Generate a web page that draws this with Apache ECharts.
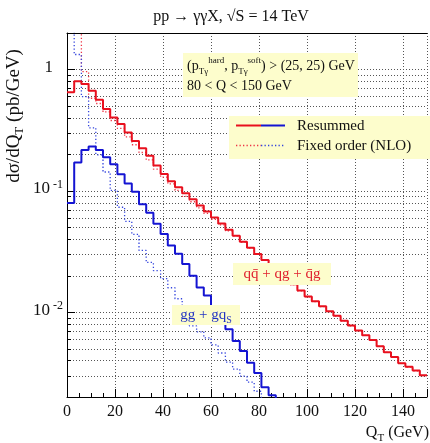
<!DOCTYPE html>
<html>
<head>
<meta charset="utf-8">
<script src="https://cdn.jsdelivr.net/npm/echarts@6/dist/echarts.min.js"></script>
<style>
  html, body { margin: 0; padding: 0; background: #fff; }
  #chart { width: 430px; height: 443px; }
</style>
</head>
<body>
<div id="chart"></div>
<script>
// Q_T bin edges (GeV), 3 GeV bins
const binEdges = [0, 3, 6, 9, 12, 15, 18, 21, 24, 27, 30, 33, 36, 39, 42, 45, 48, 51, 54, 57,
  60, 63, 66, 69, 72, 75, 78, 81, 84, 87, 90, 93, 96, 99, 102, 105, 108, 111, 114, 117,
  120, 123, 126, 129, 132, 135, 138, 141, 144, 147, 150];

// q qbar + q g + qbar g channel, resummed (pb/GeV per bin)
const qqResummed = [0.650, 0.800, 0.760, 0.670, 0.564, 0.472, 0.403, 0.355, 0.302, 0.257,
  0.224, 0.195, 0.162, 0.138, 0.120, 0.107, 0.0955, 0.0851, 0.0759, 0.0676,
  0.0603, 0.0537, 0.0479, 0.0427, 0.0380, 0.0339, 0.0302, 0.0269, 0.0240, 0.0214,
  0.0191, 0.0170, 0.0151, 0.0135, 0.0123, 0.0112, 0.0102, 0.00933, 0.00851, 0.00776,
  0.00708, 0.00646, 0.00589, 0.00525, 0.00468, 0.00427, 0.00380, 0.00355, 0.00331, 0.00302];

// q qbar + q g + qbar g channel, fixed order NLO
const qqNLO = [6.0, 3.0, 0.960, 0.580, 0.525, 0.447, 0.380, 0.327, 0.279, 0.240,
  0.207, 0.180, 0.151, 0.130, 0.114, 0.101, 0.0902, 0.0813, 0.0724, 0.0653,
  0.0582, 0.0525, 0.0468, 0.0425, 0.0378, 0.0338, 0.0301, 0.0268, 0.0239, 0.0213,
  0.0190, 0.0169, 0.0150, 0.0134, 0.0122, 0.0111, 0.0101, 0.00928, 0.00847, 0.00772,
  0.00705, 0.00643, 0.00586, 0.00522, 0.00466, 0.00425, 0.00378, 0.00353, 0.00329, 0.00300];

// g g + g q_S channel, resummed
const ggResummed = [0.0796, 0.171, 0.217, 0.232, 0.217, 0.189, 0.166, 0.137, 0.115, 0.0982,
  0.0776, 0.0659, 0.0535, 0.0441, 0.0355, 0.0303, 0.0250, 0.0200, 0.0160, 0.0137,
  0.0109, 0.00881, 0.00724, 0.00579, 0.00479, 0.00383, 0.00316, 0.00241, 0.00207, 0.0016];

// g g + g q_S channel, fixed order NLO
const ggNLO = [6.0, 1.33, 0.597, 0.331, 0.198, 0.143, 0.101, 0.0733, 0.0561, 0.0438,
  0.0323, 0.0257, 0.0220, 0.0189, 0.0159, 0.0129, 0.00989, 0.00771, 0.00689, 0.00614,
  0.00537, 0.00461, 0.00388, 0.00340, 0.00297, 0.00265, 0.00223, 0.0017];

// axis ticks: labelled x ticks, x minor ticks, log-axis minor grid values
const xTicks = [0, 20, 40, 60, 80, 100, 120, 140];
const xMinor = [5, 10, 15, 25, 30, 35, 45, 50, 55, 65, 70, 75, 85, 90, 95,
  105, 110, 115, 125, 130, 135, 145];
const minorGrid = [0.003, 0.004, 0.005, 0.006, 0.007, 0.008, 0.009,
  0.02, 0.03, 0.04, 0.05, 0.06, 0.07, 0.08, 0.09,
  0.2, 0.3, 0.4, 0.5, 0.6, 0.7, 0.8, 0.9];

const SERIF = "'Liberation Serif', 'DejaVu Serif', serif";
const RED = '#e8101e';
const BLUE = '#1414d2';
const RED_TXT = '#e0202e';
const BLUE_TXT = '#2233c4';
const BOX = '#fdfdcc';
const X_MIN = 0, X_MAX = 150, Y_MIN = 0.002, Y_MAX = 2;

// histogram -> step polyline (value held across each bin)
function histo(values) {
  const pts = values.map((v, i) => [binEdges[i], v]);
  pts.push([binEdges[values.length], values[values.length - 1]]);
  return pts;
}

const chart = echarts.init(document.getElementById('chart'), null, { renderer: 'canvas' });

const gridLine = { color: '#555', width: 1, type: [1, 2] };

const option = {
  animation: false,
  backgroundColor: '#fff',
  grid: { left: 67, top: 33, width: 363, height: 364, containLabel: false },
  xAxis: [{
    type: 'value', min: X_MIN, max: X_MAX, interval: 20, position: 'bottom',
    axisLine: { show: true, onZero: false, lineStyle: { color: '#000', width: 1 } },
    axisTick: { show: true, inside: true, length: 8, lineStyle: { color: '#000' } },
    splitLine: { show: true, lineStyle: gridLine },
    axisLabel: {
      fontFamily: SERIF, fontSize: 16, color: '#111', margin: 7,
      formatter: v => (xTicks.indexOf(v) >= 0 ? String(v) : '')
    }
  }, {
    type: 'value', min: X_MIN, max: X_MAX, position: 'top',
    axisLine: { show: true, onZero: false, lineStyle: { color: '#000', width: 1 } },
    axisTick: { show: false }, axisLabel: { show: false }, splitLine: { show: false }
  }],
  yAxis: {
    type: 'log', logBase: 10, min: Y_MIN, max: Y_MAX,
    axisLine: { show: true, lineStyle: { color: '#000', width: 1 } },
    axisTick: { show: true, inside: true, length: 8, lineStyle: { color: '#000' } },
    splitLine: { show: true, lineStyle: gridLine },
    axisLabel: {
      margin: 4,
      formatter: v => {
        const l = Math.log10(v);
        const e = Math.round(l);
        if (Math.abs(l - e) > 1e-6) return '';
        if (e === 0) return '{one|1}';
        return '{b|10}{e|' + e + '}';
      },
      rich: {
        one: { fontFamily: SERIF, fontSize: 17, color: '#111', lineHeight: 24, padding: [0, 10, 4, 0] },
        b: { fontFamily: SERIF, fontSize: 17, color: '#111', lineHeight: 24, padding: [0, 0, 4, 0] },
        e: { fontFamily: SERIF, fontSize: 12, color: '#111', lineHeight: 12, verticalAlign: 'top',
          padding: [0, 0, 0, 3] }
      }
    }
  },
  series: [
    {
      // minor log grid lines with short ticks on the y axis
      type: 'custom', silent: true, z: 1, xAxisIndex: 0,
      data: minorGrid.map(v => [X_MIN, v]),
      renderItem: (params, api) => {
        const v = api.value(1);
        const a = api.coord([X_MIN, v]);
        const b = api.coord([X_MAX, v]);
        const y = Math.round(a[1]) + 0.5;
        return {
          type: 'group', children: [
            { type: 'line', shape: { x1: a[0], y1: y, x2: b[0], y2: y },
              style: { stroke: '#555', lineWidth: 1, lineDash: [1, 2] } },
            { type: 'line', shape: { x1: a[0], y1: y, x2: a[0] + 4, y2: y },
              style: { stroke: '#000', lineWidth: 1 } }
          ]
        };
      }
    },
    {
      // minor ticks on the x axis
      type: 'custom', silent: true, z: 2, xAxisIndex: 0,
      data: xMinor.map(x => [x, Y_MIN]),
      renderItem: (params, api) => {
        const p = api.coord([api.value(0), Y_MIN]);
        const x = Math.round(p[0]) + 0.5;
        return { type: 'line', shape: { x1: x, y1: p[1], x2: x, y2: p[1] - 4 },
          style: { stroke: '#000', lineWidth: 1 } };
      }
    },
    {
      name: 'qq NLO', type: 'line', step: 'end', data: histo(qqNLO),
      showSymbol: false, symbol: 'none', z: 3,
      lineStyle: { color: '#ee3344', width: 1.3, type: [1.3, 2.2] }
    },
    {
      name: 'gg NLO', type: 'line', step: 'end', data: histo(ggNLO),
      showSymbol: false, symbol: 'none', z: 3,
      lineStyle: { color: '#3344dd', width: 1.3, type: [1.3, 2.2] }
    },
    {
      name: 'qq resummed', type: 'line', step: 'end', data: histo(qqResummed),
      showSymbol: false, symbol: 'none', z: 4,
      lineStyle: { color: RED, width: 2 }
    },
    {
      name: 'gg resummed', type: 'line', step: 'end', data: histo(ggResummed),
      showSymbol: false, symbol: 'none', z: 4,
      lineStyle: { color: BLUE, width: 2 }
    }
  ],
  graphic: { elements: [
    // title
    { type: 'text', x: 231, y: 17, z: 20,
      style: { text: 'pp \u2192 \u03b3\u03b3X, \u221aS = 14 TeV', fontFamily: SERIF, fontSize: 16,
        fill: '#111', align: 'center', verticalAlign: 'middle' } },
    // y axis title
    { type: 'text', x: 14, y: 116, rotation: Math.PI / 2, z: 20,
      style: { text: '{a|d\u03c3/dQ}{s|T}{a| (pb/GeV)}', align: 'center', verticalAlign: 'middle',
        rich: {
          a: { fontFamily: SERIF, fontSize: 19, fill: '#111', lineHeight: 24 },
          s: { fontFamily: SERIF, fontSize: 13, fill: '#111', lineHeight: 13, verticalAlign: 'bottom' }
        } } },
    // x axis title
    { type: 'text', x: 429, y: 433, z: 20,
      style: { text: '{a|Q}{s|T}{a| (GeV)}', align: 'right', verticalAlign: 'middle',
        rich: {
          a: { fontFamily: SERIF, fontSize: 16, fill: '#111', lineHeight: 22 },
          s: { fontFamily: SERIF, fontSize: 11, fill: '#111', lineHeight: 12, verticalAlign: 'bottom' }
        } } },
    // cuts box
    { type: 'rect', z: 10, shape: { x: 183, y: 53, width: 175, height: 44 }, style: { fill: BOX } },
    { type: 'text', x: 187, y: 66, z: 11,
      style: { text: '{t|(p}{sub|T\u03b3}{sup|hard}{t|, p}{sub|T\u03b3}{sup|soft}{t|) > (25, 25) GeV}',
        align: 'left', verticalAlign: 'middle',
        rich: {
          t: { fontFamily: SERIF, fontSize: 14, fill: '#111', lineHeight: 20 },
          sub: { fontFamily: SERIF, fontSize: 9, fill: '#111', lineHeight: 10, verticalAlign: 'bottom' },
          sup: { fontFamily: SERIF, fontSize: 9, fill: '#111', lineHeight: 10, verticalAlign: 'top' }
        } } },
    { type: 'text', x: 187, y: 86, z: 11,
      style: { text: '80 < Q < 150 GeV', fontFamily: SERIF, fontSize: 14, fill: '#111',
        align: 'left', verticalAlign: 'middle' } },
    // legend
    { type: 'rect', z: 10, shape: { x: 229, y: 116, width: 205, height: 43 }, style: { fill: BOX } },
    { type: 'line', z: 11, shape: { x1: 236, y1: 125.5, x2: 261, y2: 125.5 }, style: { stroke: RED, lineWidth: 2 } },
    { type: 'line', z: 11, shape: { x1: 261, y1: 125.5, x2: 285, y2: 125.5 }, style: { stroke: BLUE, lineWidth: 2 } },
    { type: 'line', z: 11, shape: { x1: 236, y1: 145.5, x2: 261, y2: 145.5 },
      style: { stroke: '#ee3344', lineWidth: 1.3, lineDash: [1.3, 2.2] } },
    { type: 'line', z: 11, shape: { x1: 261, y1: 145.5, x2: 285, y2: 145.5 },
      style: { stroke: '#3344dd', lineWidth: 1.3, lineDash: [1.3, 2.2] } },
    { type: 'text', x: 297, y: 126, z: 11,
      style: { text: 'Resummed', fontFamily: SERIF, fontSize: 15, fill: '#111', align: 'left', verticalAlign: 'middle' } },
    { type: 'text', x: 297, y: 146, z: 11,
      style: { text: 'Fixed order (NLO)', fontFamily: SERIF, fontSize: 15, fill: '#111', align: 'left', verticalAlign: 'middle' } },
    // channel labels
    { type: 'rect', z: 10, shape: { x: 233, y: 263, width: 98, height: 22 }, style: { fill: BOX } },
    { type: 'text', x: 282, y: 274, z: 11,
      style: { text: 'q\u0071\u0304 + qg + \u0071\u0304g', fontFamily: SERIF, fontSize: 15, fill: RED_TXT,
        align: 'center', verticalAlign: 'middle' } },
    { type: 'rect', z: 10, shape: { x: 172, y: 305, width: 68, height: 20 }, style: { fill: BOX } },
    { type: 'text', x: 206, y: 315, z: 11,
      style: { text: '{a|gg + gq}{s|S}', align: 'center', verticalAlign: 'middle',
        rich: {
          a: { fontFamily: SERIF, fontSize: 15, fill: BLUE_TXT, lineHeight: 20 },
          s: { fontFamily: SERIF, fontSize: 10, fill: BLUE_TXT, lineHeight: 11, verticalAlign: 'bottom' }
        } } }
  ] }
};

chart.setOption(option);
</script>
</body>
</html>
